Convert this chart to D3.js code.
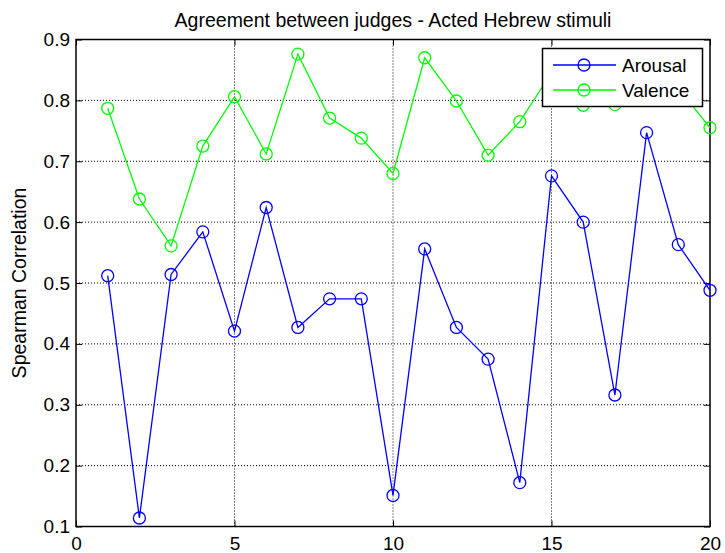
<!DOCTYPE html>
<html><head><meta charset="utf-8">
<script src="https://cdn.jsdelivr.net/npm/d3@7"></script>
<style>body{margin:0;background:#fff}svg{display:block}text{font-family:"Liberation Sans",Arial,sans-serif}</style>
</head><body><svg id="c" width="725" height="553"></svg>
<script>
const trials = d3.range(1, 21);
const arousal = [0.512,0.114,0.514,0.584,0.421,0.624,0.427,0.474,0.474,0.151,0.556,0.427,0.375,0.172,0.676,0.600,0.316,0.747,0.563,0.488];
const valence = [0.787,0.638,0.561,0.725,0.806,0.712,0.876,0.771,0.738,0.680,0.870,0.799,0.710,0.765,0.845,0.792,0.793,0.840,0.820,0.755];
const xTicks = [0,5,10,15,20];
const yTicks = [0.1,0.2,0.3,0.4,0.5,0.6,0.7,0.8,0.9];
const seriesNames = ["Arousal","Valence"];
const seriesColors = ["#0000ff","#00ff00"];
const title = "Agreement between judges - Acted Hebrew stimuli";
const yLabel = "Spearman Correlation";

const L=76,R=710,T=39.5,B=526.5;
const svg=d3.select("#c");
const x=d3.scaleLinear().domain([0,20]).range([L,R]);
const y=d3.scaleLinear().domain([0.1,0.9]).range([B,T]);

// grid
const g=svg.append("g");
g.selectAll(".gx").data(xTicks.slice(1,-1)).enter().append("line")
 .attr("x1",d=>x(d)).attr("x2",d=>x(d)).attr("y1",T).attr("y2",B)
 .attr("stroke","#000").attr("stroke-width",1).attr("stroke-dasharray","1,2");
g.selectAll(".gy").data(yTicks.slice(1,-1)).enter().append("line")
 .attr("y1",d=>y(d)).attr("y2",d=>y(d)).attr("x1",L).attr("x2",R)
 .attr("stroke","#000").attr("stroke-width",1).attr("stroke-dasharray","1,2");

// axes
const fs="19px";
const ax=svg.append("g").attr("transform",`translate(0,${B})`).call(d3.axisBottom(x).tickValues(xTicks).tickSize(-6).tickPadding(10).tickFormat(d3.format("d")));
const ay=svg.append("g").attr("transform",`translate(${L},0)`).call(d3.axisLeft(y).tickValues(yTicks).tickSize(-6).tickPadding(6).tickFormat(d3.format(".1f")));
const at=svg.append("g").attr("transform",`translate(0,${T})`).call(d3.axisTop(x).tickValues(xTicks).tickSize(-6).tickFormat(""));
const ar=svg.append("g").attr("transform",`translate(${R},0)`).call(d3.axisRight(y).tickValues(yTicks).tickSize(-6).tickFormat(""));
[ax,ay,at,ar].forEach(a=>{a.select(".domain").remove();a.selectAll("line").attr("stroke","#000");a.selectAll("text").attr("fill","#000").style("font-size",fs).style("font-family","'Liberation Sans',Arial,sans-serif");});
ax.selectAll("text").attr("dy","0.71em");
svg.append("rect").attr("x",L).attr("y",T).attr("width",R-L).attr("height",B-T).attr("fill","none").attr("stroke","#000").attr("stroke-width",1.5);

// series
[arousal,valence].forEach((vals,i)=>{
  const data=vals.map((v,j)=>[trials[j],v]);
  svg.append("path").datum(data).attr("fill","none").attr("stroke",seriesColors[i]).attr("stroke-width",1.3)
    .attr("d",d3.line().x(d=>x(d[0])).y(d=>y(d[1])));
  svg.selectAll(null).data(data).enter().append("circle").attr("cx",d=>x(d[0])).attr("cy",d=>y(d[1])).attr("r",6)
    .attr("fill","none").attr("stroke",seriesColors[i]).attr("stroke-width",1.3);
});

// title & ylabel
svg.append("text").attr("x",(L+R)/2).attr("y",27).attr("text-anchor","middle").style("font-size","19.5px").attr("fill","#000").text(title);
svg.append("text").attr("transform",`translate(26,${(T+B)/2}) rotate(-90)`).attr("text-anchor","middle").style("font-size","19.5px").attr("fill","#000").text(yLabel);

// legend
const lg=svg.append("g");
lg.append("rect").attr("x",542.5).attr("y",48.5).attr("width",160).attr("height",58).attr("fill","#fff").attr("stroke","#000").attr("stroke-width",1.5);
seriesNames.forEach((n,i)=>{
  const yy=65+i*25;
  lg.append("line").attr("x1",553).attr("x2",616).attr("y1",yy).attr("y2",yy).attr("stroke",seriesColors[i]).attr("stroke-width",1.3);
  lg.append("circle").attr("cx",584).attr("cy",yy).attr("r",6).attr("fill","none").attr("stroke",seriesColors[i]).attr("stroke-width",1.3);
  lg.append("text").attr("x",622).attr("y",yy).attr("dy","0.35em").style("font-size","19px").attr("fill","#000").text(n);
});
</script></body></html>
